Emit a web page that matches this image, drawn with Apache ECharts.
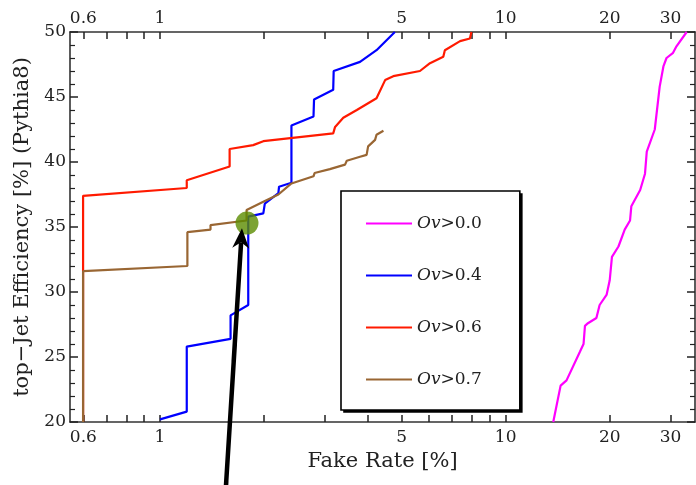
<!DOCTYPE html>
<html><head><meta charset="utf-8">
<script src="https://cdn.jsdelivr.net/npm/echarts@6/dist/echarts.min.js"></script>
<style>html,body{margin:0;padding:0;background:#fff}#c{width:696px;height:485px}</style>
</head><body><div id="c"></div>
<script>
// ---- data (fake rate %, efficiency %) ----
const seriesNames = ['Ov>0.0', 'Ov>0.4', 'Ov>0.6', 'Ov>0.7'];
const ov00 = [[13.73,20],[14.42,22.8],[15.0,23.2],[16.4,25.4],[16.8,26.0],[16.96,27.4],[17.3,27.6],[18.3,28.0],[18.7,29.0],[19.6,29.8],[20.0,30.9],[20.3,32.7],[21.2,33.5],[22.1,34.8],[22.9,35.5],[23.1,36.6],[24.5,37.85],[25.3,39.1],[25.6,40.8],[27.0,42.5],[27.9,45.8],[28.6,47.35],[29.2,48.0],[30.5,48.4],[31.2,48.9],[33.4,50]];
const ov04 = [[1.00,20.2],[1.195,20.8],[1.195,25.8],[1.60,26.4],[1.60,28.2],[1.61,28.35],[1.80,29.0],[1.80,35.8],[1.99,36.05],[2.01,36.8],[2.20,37.6],[2.21,38.1],[2.40,38.4],[2.40,42.8],[2.78,43.5],[2.79,44.8],[3.17,45.55],[3.18,47.0],[3.79,47.7],[4.23,48.6],[4.78,50.0]];
const ov06 = [[0.599,20],[0.599,37.4],[1.195,38.0],[1.195,38.6],[1.59,39.65],[1.59,41.0],[1.86,41.3],[1.99,41.6],[3.17,42.2],[3.21,42.7],[3.39,43.4],[3.71,44.0],[4.23,44.9],[4.48,46.3],[4.73,46.6],[5.65,47.0],[6.04,47.6],[6.60,48.1],[6.67,48.6],[7.38,49.3],[7.88,49.5],[7.96,50]];
const ov07 = [[0.599,20],[0.599,31.6],[1.20,32.0],[1.20,34.6],[1.40,34.8],[1.40,35.15],[1.78,35.5],[1.78,36.3],[1.80,36.45],[1.99,36.95],[2.20,37.5],[2.40,38.35],[2.78,38.9],[2.80,39.15],[3.10,39.45],[3.43,39.8],[3.47,40.1],[3.79,40.4],[3.96,40.55],[4.00,41.2],[4.19,41.7],[4.23,42.1],[4.43,42.4]];
const highlightPoint = [[1.785, 35.3]];
const arrowTail = [1.552, 15.1];
const arrowTip = [1.726, 34.9];
const xRange = [0.549, 35.3];
const yRange = [20, 50];
const xTickValues = [0.6,0.7,0.8,0.9,1,2,3,4,5,6,7,8,9,10,20,30];
const xLabelValues = [0.6,1,5,10,20,30];
const yLabelValues = [20,25,30,35,40,45,50];

// ---- chart ----
const FONT = 'DejaVu Serif';
const lg = v => Math.log10(v);
const toLog = arr => arr.map(p => [lg(p[0]), p[1]]);
const fmtX = v => String(parseFloat(Math.pow(10, v).toPrecision(3)));
const colors = ['#ff00ff', '#0000ff', '#ff1a00', '#996633'];
const dataSets = [ov00, ov04, ov06, ov07];

const axisLineStyle = { color: '#333', width: 1.6 };
function xAxisCfg(pos, margin) {
  return {
    type: 'value', position: pos, min: lg(xRange[0]), max: lg(xRange[1]),
    axisLine: { show: true, onZero: false, lineStyle: axisLineStyle },
    axisTick: { show: true, inside: true, length: 7, lineStyle: { color: '#222', width: 1.5 }, customValues: xTickValues.map(lg) },
    axisLabel: { show: true, customValues: xLabelValues.map(lg), formatter: fmtX, fontFamily: FONT, fontSize: 17, color: '#222', margin: margin },
    splitLine: { show: false }
  };
}
function yAxisCfg(pos, showLabel) {
  return {
    type: 'value', position: pos, min: yRange[0], max: yRange[1], interval: 5,
    axisLine: { show: true, onZero: false, lineStyle: axisLineStyle },
    axisTick: { show: true, inside: true, length: 8, lineStyle: { color: '#222', width: 1.5 } },
    minorTick: { show: true, splitNumber: 5, length: 5, lineStyle: { color: '#222', width: 1.2 } },
    axisLabel: { show: showLabel, customValues: yLabelValues, fontFamily: FONT, fontSize: 17, color: '#222', margin: 4 },
    splitLine: { show: false }
  };
}

const chart = echarts.init(document.getElementById('c'), null, { renderer: 'canvas' });
const xBottom = xAxisCfg('bottom', 7);
xBottom.name = 'Fake Rate [%]';
xBottom.nameLocation = 'middle';
xBottom.nameGap = 29;
xBottom.nameTextStyle = { fontFamily: FONT, fontSize: 21, color: '#222' };
const yLeft = yAxisCfg('left', true);
yLeft.name = 'top\u2212Jet Efficiency [%] (Pythia8)';
yLeft.nameLocation = 'middle';
yLeft.nameGap = 35;
yLeft.nameTextStyle = { fontFamily: FONT, fontSize: 21, color: '#222' };

const series = dataSets.map((d, i) => ({
  name: seriesNames[i], type: 'line', data: toLog(d), xAxisIndex: 0, yAxisIndex: 0,
  symbol: 'none', showSymbol: false, lineStyle: { color: colors[i], width: 2.2 }, itemStyle: { color: colors[i] },
  animation: false, z: 2
}));
series.push({
  name: 'point', type: 'scatter', data: toLog(highlightPoint), symbol: 'circle', symbolSize: 23,
  itemStyle: { color: '#5b8c00' }, z: 5, animation: false
});

chart.setOption({
  animation: false,
  grid: { left: 70, right: 1, top: 32, bottom: 63, containLabel: false },
  xAxis: [xBottom, xAxisCfg('top', 5)],
  yAxis: [yLeft, yAxisCfg('right', false)],
  legend: {
    data: seriesNames, orient: 'vertical', left: 341, top: 191,
    padding: [24, 38, 22, 24], itemWidth: 46, itemHeight: 14, itemGap: 35,
    borderColor: '#000', borderWidth: 1.6, backgroundColor: '#fff',
    itemStyle: { opacity: 0 },
    lineStyle: { width: 2 },
    formatter: name => '{i|Ov}{n|' + name.slice(2) + '}',
    textStyle: {
      rich: {
        i: { fontFamily: FONT, fontStyle: 'italic', fontSize: 17, color: '#222' },
        n: { fontFamily: FONT, fontSize: 17, color: '#222' }
      }
    }
  },
  series: series
});

// arrow annotation
const t = chart.convertToPixel({ gridIndex: 0 }, [lg(arrowTip[0]), arrowTip[1]]);
const s = chart.convertToPixel({ gridIndex: 0 }, [lg(arrowTail[0]), arrowTail[1]]);
const dx = t[0] - s[0], dy = t[1] - s[1];
const len = Math.sqrt(dx * dx + dy * dy);
const ux = dx / len, uy = dy / len, nx = -uy, ny = ux;
const L = 20, W = 17, notch = 6;
const base = [t[0] - ux * (L - notch), t[1] - uy * (L - notch)];
const graphics = [
  { type: 'line', z: 100, shape: { x1: s[0], y1: s[1], x2: base[0], y2: base[1] }, style: { stroke: '#000', lineWidth: 4.5 } },
  { type: 'polygon', z: 100, shape: { points: [
    t,
    [t[0] - ux * L + nx * W / 2, t[1] - uy * L + ny * W / 2],
    base,
    [t[0] - ux * L - nx * W / 2, t[1] - uy * L - ny * W / 2]
  ] }, style: { fill: '#000' } }
];
// drop shadow behind the legend frame (offset to the lower right)
try {
  const lm = chart.getModel().getComponent('legend');
  const view = chart.getViewOfComponentModel(lm);
  const g = view.group;
  const r = g.getBoundingRect();
  graphics.push({ type: 'rect', z: 1, shape: { x: g.x + r.x + 3, y: g.y + r.y + 3, width: r.width - 1, height: r.height - 1 }, style: { fill: '#000' } });
} catch (e) {}
chart.setOption({ graphic: graphics });
</script>
</body></html>
